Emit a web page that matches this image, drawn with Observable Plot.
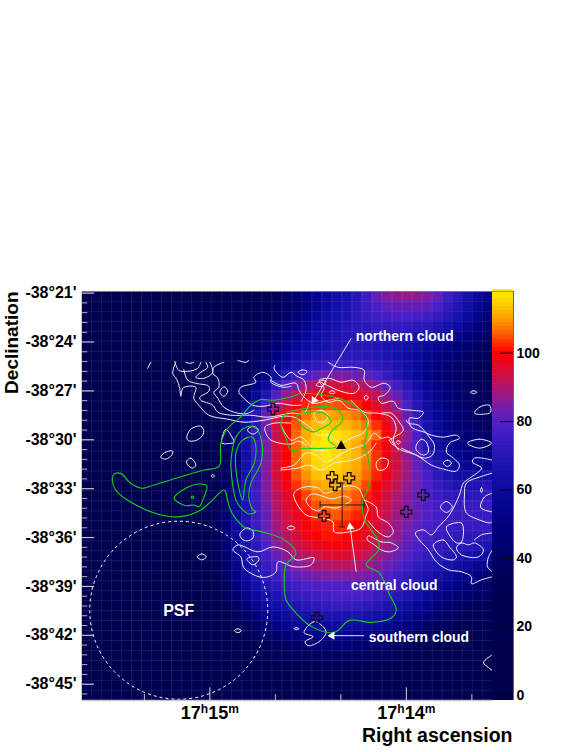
<!DOCTYPE html>
<html><head><meta charset="utf-8">
<script src="https://cdn.jsdelivr.net/npm/d3@7"></script>
<script src="https://cdn.jsdelivr.net/npm/@observablehq/plot@0.6"></script>
<style>html,body{margin:0;padding:0;background:#fff}#wrap{position:relative;width:581px;height:752px;overflow:hidden}#wrap svg{position:absolute;left:0;top:0;max-width:none}</style>
</head><body><div id="wrap"></div>
<script>
// Map bins: the image has 41 x 41 bins. Contours and markers below are read in bin units.
const raOrigin = 99.2, raPerBin = 3.0612;      // seconds of RA after 17h14m
const decOrigin = 20.9, decPerBin = 0.6122;    // arcmin south of -38 deg
const toRA = b => raOrigin - b * raPerBin;
const toDec = b => decOrigin + b * decPerBin;

const raMajor = [60, 0];
const raMinor = [80, 40, 20, -20];
const decMajor = [21, 24, 27, 30, 33, 36, 39, 42, 45];
const colorTicks = [0, 20, 40, 60, 80, 100];
const colorStops = [0, 30, 40, 50, 58, 65, 72, 78, 83, 88, 93, 98, 100, 103, 106, 110, 115, 118.5];
const colorRange = ["#00004a","#000054","#000062","#000080","#080898","#1410aa","#2c18ba","#4a1ec8","#6c1eb0","#9e1880","#cc1048","#f00414","#ff0000","#ff3000","#ff6800","#ffa000","#ffd400","#ffec00"];

const backgroundValue = 22;   // bins 0-11 of every row
const heatRows = [ // bins 12-40
[22,22,24,26,28,30,32,34,40,43,48,55,60,63,66,70,75,82,85,86,87,86,85,82,76,72,65,60,55],
[22,22,24,26,28,30,33,36,40,44,50,56,60,64,67,71,75,78,81,82,82,82,81,78,74,69,63,57,52],
[22,22,24,26,28,31,34,38,42,47,52,58,62,65,68,71,74,76,77,78,78,77,76,74,70,66,60,54,49],
[22,23,25,27,29,32,36,40,45,50,55,60,63,66,69,71,72,73,73,73,73,72,71,68,65,61,56,50,45],
[22,23,25,27,30,34,38,43,48,53,58,62,65,67,69,70,70,70,70,69,68,67,65,62,59,55,50,45,41],
[23,24,26,28,32,36,41,46,52,57,61,64,66,68,69,70,70,69,67,66,64,62,59,56,53,49,45,41,38],
[23,24,26,29,33,38,44,50,56,61,64,67,69,70,71,71,70,69,67,65,62,59,56,53,49,46,42,39,36],
[23,25,27,30,35,41,47,54,61,66,70,72,74,75,75,75,74,72,70,67,63,59,55,51,47,44,41,38,35],
[23,25,28,32,38,44,52,62,70,75,78,81,83,84,84,83,81,78,74,69,64,58,53,49,45,42,39,37,34],
[24,25,28,34,42,50,60,72,79,84,88,91,93,94,94,92,90,86,81,76,70,63,57,52,47,43,40,38,35],
[24,26,30,37,46,58,68,79,87,92,96,99,100,100,99,97,95,91,87,82,75,67,60,54,49,44,41,38,35],
[24,27,32,40,52,66,76,87,94,99,102,104,105,105,104,102,99,96,91,86,78,70,62,55,50,45,42,39,36],
[25,28,34,44,58,70,82,93,99,103,107,110,111,110,109,107,104,100,96,90,82,73,64,57,51,47,43,40,37],
[25,29,36,46,60,72,84,94,100,105,110,113,114,113,112,110,107,103,98,92,84,75,66,59,53,48,44,41,38],
[26,30,38,48,62,72,82,92,99,106,111,115,118,117,115,113,110,106,100,95,87,78,69,61,55,50,46,43,41],
[26,30,38,49,63,73,84,94,100,106,112,117,118,116,114,111,107,102,98,92,85,78,70,62,57,52,49,46,44],
[26,30,38,49,63,73,84,94,100,106,112,116,118,116,114,112,108,103,98,93,87,80,73,66,60,55,52,50,50],
[26,30,38,50,64,74,85,94,100,106,111,115,116,115,113,111,107,103,98,94,88,82,75,69,63,59,57,56,57],
[26,31,39,50,64,75,85,94,100,105,109,113,114,114,112,110,106,102,98,93,88,83,77,72,67,64,63,63,65],
[26,31,40,52,65,75,85,93,98,103,107,110,111,111,110,108,104,100,96,92,87,83,78,74,71,68,68,68,70],
[26,32,42,54,66,76,85,91,96,100,104,107,108,108,107,105,102,98,94,90,86,82,78,75,73,72,72,72,73],
[27,33,44,56,67,75,83,90,95,98,102,105,106,107,106,104,100,97,93,89,85,82,79,77,75,74,74,74,75],
[27,34,46,58,68,75,82,89,94,97,100,103,104,105,104,102,99,96,92,88,85,82,79,77,75,75,75,75,75],
[27,35,47,59,68,75,82,88,93,96,99,101,102,102,102,100,98,95,91,87,84,81,78,76,75,74,74,74,74],
[27,35,47,60,67,74,81,87,91,95,98,100,101,101,100,99,97,94,90,87,83,80,77,75,74,73,72,72,72],
[26,34,46,59,66,72,78,85,89,92,95,97,98,99,98,97,95,92,88,85,81,78,75,73,72,71,70,69,68],
[26,33,45,57,65,71,76,82,86,89,91,93,95,95,95,94,92,89,86,83,79,76,73,71,69,68,66,64,61],
[26,32,44,55,63,69,74,78,82,85,87,89,90,91,91,90,88,86,83,80,76,73,70,68,65,63,60,57,54],
[25,31,42,52,61,67,72,75,78,81,83,84,85,85,85,85,84,82,79,76,73,70,67,64,61,57,53,50,47],
[25,30,40,49,57,64,69,72,74,76,78,79,79,79,79,79,78,77,75,73,70,67,63,59,55,52,48,46,44],
[24,29,37,46,54,60,65,68,71,73,75,76,77,78,78,78,77,75,73,71,68,64,60,55,51,47,44,42,40],
[24,27,33,41,48,55,60,63,66,68,70,72,73,74,74,73,72,70,68,65,62,58,54,49,45,42,40,38,36],
[23,26,30,36,43,49,54,58,61,63,65,66,67,67,67,67,66,64,62,59,56,52,48,44,41,38,36,35,34],
[23,25,28,32,38,43,48,52,55,57,58,60,60,61,61,60,59,58,56,53,50,47,43,40,37,35,33,32,31],
[22,24,26,29,33,37,42,45,48,50,52,53,54,54,54,53,53,51,49,47,44,41,38,36,33,32,31,30,29],
[22,23,25,27,30,33,36,39,41,43,45,46,46,47,47,46,45,44,42,40,38,36,34,32,31,30,29,28,27],
[22,23,24,26,28,30,32,34,36,37,38,39,40,40,40,39,39,38,36,35,33,32,30,29,28,27,26,26,25],
[22,22,24,25,26,28,29,30,31,32,33,34,34,34,34,34,33,32,31,30,29,28,27,26,26,25,25,24,24],
[22,22,23,24,25,26,27,28,28,29,29,30,30,30,30,30,29,29,28,27,27,26,25,25,24,24,23,23,23],
[22,22,22,23,23,24,24,25,25,25,26,26,26,26,26,26,26,25,25,25,24,24,24,23,23,23,22,22,22],
[22,22,22,22,22,23,23,23,23,23,24,24,24,24,24,24,24,23,23,23,23,23,22,22,22,22,22,22,22]
];

// White contours (open), bin units [x, y]
const whiteOpen = [
 [[9.4,7.1],[9.1,8.2],[9.5,8.8],[9.8,9.7],[9.9,10.5],[10.1,9.7],[10.6,9.5],[11.4,9.6],[11.2,10.7],[11.7,11.4],[12.7,12.4],[14.6,12.8],[16.2,13.1],[18.2,12.9],[20.2,12.5],[21.2,12.6],[22.1,13.1],[22.9,13.7],[23.6,14.4],[24.6,14.4],[25.4,14.9],[25.7,15.2],[27.1,14.6],[28.2,14.1],[28.6,12.9],[27.7,11.9],[26.6,11.7],[25.7,10.9],[24.6,11.1],[23.9,10.4],[24.2,9.7],[23.7,9.1]],
 [[10.2,7.8],[10.6,8.9],[11.4,9.2],[12.7,9.5],[12.7,10],[11.8,10.6],[11.9,10.9],[13.1,11.4],[13.6,12.1],[14.9,12.4],[16.9,12.4],[18.6,12.6],[20.9,12.2],[22.2,12.2],[22.7,11.2]],
 [[9.3,7],[9.7,7.9],[10.6,8],[11.6,7.7],[11.9,7.1]],
 [[10.4,7.1],[10.8,7.2],[11.2,7.1]],
 [[12.8,7.1],[13.1,8.1],[12.2,8.7],[11.4,8.6],[11.9,8.1],[12.6,7.6],[12.4,7.1]],
 [[14.2,7.1],[13.2,7.6],[13.1,8.2],[13.6,8.7],[13.7,9.6],[13.2,10.1],[13.6,10.7],[14.2,11.6],[15.6,12.2],[16.6,12.2],[17.2,11.9]],
 [[20.9,9.5],[20.2,9.6],[18.9,9.1],[18.9,8.6],[18.1,8.1],[17.2,8.6],[17.4,9.1],[15.9,9.6],[15.7,10.1],[16.2,10.7],[17.1,11.4],[18.2,11.5],[19.6,11.2],[20.9,11.4],[21.9,11.4]],
 [[19.3,7.4],[19.2,7.7],[20.1,8.6],[20.9,8.1],[21.5,8.5],[22.2,8.9],[22.4,9.9],[21.9,11]],
 [[24.6,7.1],[25.6,7.6],[27.2,7.6],[28.2,7.9],[28.2,8.9],[28.9,9.6],[30.2,9.2],[30.8,9.6],[30.2,10.4],[29.6,10.6],[29.9,11.2],[31.1,11],[31.6,11.7],[32.9,11.9],[34.1,12.1],[33.6,12.7],[32.7,12.7],[32.9,13.6],[34.2,14.1],[34.9,14.4],[36.1,14.6],[37.4,14.4],[37.7,14.7],[36.7,15.2],[36.4,16.1],[37.1,16.7],[37.7,17.4],[37.4,18],[36.1,17.8],[34.9,17.4],[33.4,16.4],[31.9,15.9],[31.2,15.4],[30.7,14.6],[29.9,14.7],[29.2,14.2],[28.6,15],[28.1,15.4],[26.6,15.9],[25.4,16.6],[24.4,17.1],[23.4,16.4],[22.4,16.2],[21.2,17.4],[19.9,17.7]],
 [[19.9,13.4],[20.9,14.9],[21.9,14.6],[23.2,15.8],[24.2,15.9],[25.4,15.4]],
 [[26.9,10.9],[28.2,12.1],[29.6,12.2],[30.9,12.6],[31.4,13.7],[31.1,14.9],[31.6,15.9]],
 [[29.9,12.2],[30.9,12.2],[31.7,13.1],[32.1,13.9],[31.2,14.6],[30.7,14.9],[31.1,15.4]],
 [[32.4,12.9],[32.6,13.2],[33.6,13.4],[34.7,14.6],[35.2,15.4],[35,16.4],[34.2,16.7],[33.2,16.3],[31.9,15.7]],
 [[28.2,20.9],[29.4,21.6],[29.6,22.6],[30.6,23.2],[31.1,24.1],[30.6,24.6],[29.7,24.2],[29,23.5],[28.6,23]],
 [[41,16.9],[39.2,16.7],[39,17.1],[39.9,17.7],[38.9,18.6],[38.1,19.2],[37.7,20.4],[36.7,22.4],[35.6,23.6],[34.9,24.4],[34.1,23.9],[33.3,24.2],[33.7,24.9],[34.6,25.9],[35.4,27.1],[36.6,27.9],[37.9,28.1],[38.9,28.6],[38.9,29.3],[39.9,28.9],[41,28.6]],
 [[41,18.2],[39.7,18.6],[38.4,19.2],[38.2,20.4],[38.4,22.2],[39.7,22.9],[40.7,23.2],[41,23.1]],
 [[41,20.2],[40.2,20.6],[39.8,21.6],[40.2,21.9],[41,22.1]],
 [[41,24.2],[39.9,24.4],[39.2,24.9]],
 [[41,25.9],[40.6,26.6],[40.5,27.6],[41,28.1]],
 [[41,36.4],[40.1,37.2],[40.6,37.7],[41,38]],
 [[6.6,7.7],[6.9,7.1]],
 [[15.6,6.9],[16.4,7.1],[16.7,6.9]],
 [[20.9,13.2],[19.2,13.2],[18.3,13.6],[18.4,14.2],[18.9,14.9],[20.9,15.3],[21.6,15],[22.4,15.4]],
 [[18.9,8.9],[19.9,9.4],[21.4,9.2],[21.7,9.9],[22.2,10.6],[23.2,11.2],[24.6,10.9],[25.7,10.7]],
 [[19.9,17.9],[21.6,17.7],[22.7,17.4],[23.9,17.9],[25.2,17.2],[27.1,16.9],[28.7,16.1],[29.4,15.2]]
];
// White contours (closed), bin units [x, y]
const whiteClosed = [
 [[21.2,20.2],[22.2,19.6],[23.6,19.7],[24.2,20.2],[25.4,19.9],[26.4,19.5],[27.6,19.7],[28.2,20.9],[28.6,21.8],[28.4,22.4],[27.9,23.7],[26.7,24.1],[25.2,24.1],[25.1,23.1],[23.9,22.7],[22.4,22.4],[21.3,20.9]],
 [[22.4,20.9],[22.9,21.7],[23.7,22],[24.2,21.6],[25.4,21.7],[26.2,21.4],[26.9,20.9],[26.2,20.5],[25,20.8],[24,20.5],[23,20.3]],
 [[28.6,24.5],[29.9,25.1],[30.9,25.2],[31.6,25.7],[30.7,26.1],[29.9,25.9],[29.1,25.3],[28.5,24.9]],
 [[29.4,17.2],[29.9,16.7],[30.6,16.9],[30.4,17.7],[29.6,17.9]],
 [[21.6,8.1],[22,7.85],[22.5,8],[22.1,8.35]],
 [[23.4,9.4],[24,8.9],[24.4,9],[24,9.5]],
 [[24.7,10.1],[25,9.95],[25.3,10.1],[25,10.25]],
 [[28.2,10.6],[28.4,10.4],[28.6,10.6],[28.4,10.9]],
 [[31.4,15.1],[31.6,14.95],[31.8,15.1],[31.6,15.3]],
 [[24.7,8.7],[25.9,9.1],[27.1,8.9],[27.7,9.6],[27.2,10.2],[26.2,10.1],[24.9,9.6],[23.7,8.9]],
 [[33.4,15.4],[33.9,14.8],[34.4,15.1],[34.6,16.1],[34.1,16.4],[33.4,15.9]],
 [[36.1,17.2],[36.5,16.9],[36.9,17.2],[36.5,17.55]],
 [[38.5,15.2],[39.7,14.8],[40.9,15.2],[39.7,15.7]],
 [[39.2,12.2],[39.7,11.6],[40.7,11.4],[40.8,12.1],[40.1,12.3]],
 [[38.8,10.1],[39.1,9.95],[39.45,10.1],[39.1,10.25]],
 [[36.4,23.6],[37.9,23.2],[38.1,23.9],[37.9,25.1],[37.4,25.2]],
 [[35.1,25.4],[36.1,24.9],[36.7,25.6],[37.4,26.6],[37.1,26.9],[35.9,26.6]],
 [[37.4,25.7],[37.9,25.2],[38.6,25.4],[39.2,25.2],[40.1,25.9],[39.6,26.6],[37.9,26.4]],
 [[39.8,19.9],[39.9,19.65],[40,19.9],[39.9,20.15]],
 [[35.8,21.6],[36.4,21.05],[37,21.6],[36.4,22.15]],
 [[10.5,14.7],[10.9,13.8],[11.9,13.5],[12.2,14.1],[11.7,14.8],[10.8,15]],
 [[7.9,16.6],[8.4,16.1],[9.1,16],[9,16.4],[8.4,16.8]],
 [[10.5,17],[10.9,16.7],[11.4,17.4],[11.1,17.7],[10.6,17.4]],
 [[12.95,18.5],[13.1,18.35],[13.25,18.5],[13.1,18.65]],
 [[14.2,9.55],[14.6,10],[14.2,10.5],[13.8,10.1]],
 [[14,15.2],[14.1,14.4],[14.4,13.8],[14.9,14.4],[15.2,15.1],[14.6,15.25]],
 [[16.55,13.9],[17.1,13.5],[17.65,13.9],[17.1,14.3]],
 [[15.1,25.9],[15.6,25.4],[17.6,26.1],[19.1,25.6],[20.6,26.1],[21.4,26.9],[23.2,26.7],[22.9,27.4],[21.2,27.6],[19.6,27.1],[19.4,28.1],[18.6,28.6],[17.7,28.6],[16.2,27.7],[15.9,26.6]],
 [[15.8,24.3],[16.5,23.7],[17.1,24],[17.1,24.7],[16.5,25],[16,24.8]],
 [[16.5,26.8],[17.6,26.6],[17.7,26.9],[17.1,27.4]],
 [[20.5,23.7],[20.9,23.5],[21.3,23.7],[20.9,23.9]],
 [[15.25,34],[15.6,33.8],[15.95,34],[15.6,34.2]],
 [[21.2,33.8],[21.45,33.7],[21.7,33.8],[21.45,33.9]],
 [[11.55,26.6],[12,26.3],[12.45,26.6],[12,26.9]],
 [[22.2,34.2],[23.2,33.1],[24.1,33.6],[24.4,34.2],[23.7,35.1],[22.6,35.5],[22.3,35.1],[23.1,34.6]],
 [[23.2,12.2],[23.9,11.9],[24.6,12.4],[24.2,13.1],[23.6,13.1]]
];
// Green contours (closed), bin units [x, y]
const greenClosed = [
 [[3.07,18.9],[3.23,18.33],[3.9,18.23],[4.9,19.23],[6.07,19.73],[7.23,19.4],[9.9,18.57],[12.23,17.9],[13.73,17.5],[13.9,15.23],[14.57,13.73],[15.9,12.57],[16.9,11.4],[17.9,10.83],[18.9,10.9],[20.9,10.57],[21.9,10.23],[24.23,10.4],[26.23,10.9],[28.07,12.23],[28.5,13.9],[28.23,15.57],[28.57,16.57],[28.73,18.9],[28.5,20],[28.07,20.9],[28.23,22.9],[29.57,24.9],[29.63,25.9],[28.4,27.4],[29.73,28.23],[30.73,30.4],[31.4,31.9],[30.9,32.73],[28.9,33.17],[26.73,32.97],[25.23,34.17],[22.9,33.57],[21.4,32.23],[20.4,30.9],[20.23,28.9],[20.4,27.4],[21.4,26.23],[20.23,24.9],[17.9,24.07],[16.4,23.73],[15.23,22.57],[14.73,21.57],[14.57,20.9],[14.23,19.9],[12.9,21.07],[11.9,21.9],[9.9,22.57],[7.57,22.3],[4.57,20.9],[3.4,19.9]],
 [[9.23,20.73],[10.4,19.73],[11.73,19.3],[12.5,19.5],[12.23,20.57],[11.73,21.57],[11.23,21.4],[10.4,21.47],[9.73,21.17]],
 [[15.4,20.9],[14.9,17.5],[15,16.2],[15.4,14.6],[16.4,13.6],[17.4,13.7],[18,15.2],[17.9,17.2],[16.9,19.2],[16.7,20.6],[17.1,21.9],[17.4,22.07],[16.7,22.3],[15.9,21.7]],
 [[16.07,20.9],[15.5,18.6],[15.4,16.2],[16.07,14.9],[17.07,14.6],[17.4,15.6],[17.23,17.2],[16.4,18.9]],
 [[19.9,13.23],[20.4,12.23],[22.23,11.73],[24.57,11.57],[25.57,11.9],[26.07,12.9],[24.9,14.07],[24.63,14.9],[25.4,15.57],[23.9,15.73],[22.23,15.73],[20.9,15.9],[20.4,14.73]],
 [[21.5,12.5],[22.9,12.07],[24.23,12.23],[24.9,13.07],[23.9,13.73],[23.23,14.07],[22.07,13.57]],
 [[10.95,20.63],[11.07,20.5],[11.2,20.63],[11.07,20.75]]
];

const sourcePlus = [[19.1,11.8],[25,18.6],[26.7,18.7],[25.3,19.4],[24.2,22.5],[23.5,32.7],[34.1,20.4],[32.4,22.1]];
const triangleSource = [[25.9,15.5]];
const errCentre = [26, 21.4], errX = [23.8, 28.2], errY = [19.2, 23.6], errCap = 0.3;
const psfCentre = [9.7, 31.95];
const arrows = [
  {from:[26.9,4.7], to:[23.2,10.9]},
  {from:[27.4,28.1], to:[26.8,23.6]},
  {from:[28.2,34.5], to:[25,34.5]}
];
const arrowTurn = [212, -8.5, -90];
const cloudLabels = [
  {name:"northern cloud", at:[32.25,4.55]},
  {name:"central cloud", at:[31.2,29.5]},
  {name:"southern cloud", at:[33.65,34.65]},
  {name:"PSF", at:[9.7,32]}
];

const cells = [];
heatRows.forEach((row, r) => {
  for (let c = 0; c < 41; c++) {
    cells.push({x1: toRA(c), x2: toRA(c + 1), y1: toDec(r), y2: toDec(r + 1), v: c < 12 ? backgroundValue : row[c - 12]});
  }
});
const binEdges = d3.range(1, 41);
const flat = list => list.flatMap((pts, id) => pts.map(p => ({id, x: toRA(p[0]), y: toDec(p[1])})));
const font = "'Liberation Sans', Arial, sans-serif";
const colorScale = {type: "linear", domain: colorStops, range: colorRange, interpolate: "rgb", clamp: true};
const raL = toRA(0), raR = toRA(41), decT = toDec(0), decB = toDec(41);
const xy = p => ({x: toRA(p[0]), y: toDec(p[1])});

const main = Plot.plot({
  width: 581, height: 752, marginTop: 291, marginBottom: 52, marginLeft: 81, marginRight: 89,
  x: {domain: [raL, raR]},
  y: {domain: [decB, decT]},
  color: colorScale,
  style: {background: "transparent", fontFamily: font, overflow: "visible"},
  marks: [
    Plot.rect(cells, {x1: "x1", x2: "x2", y1: "y1", y2: "y2", fill: "v", stroke: "v", strokeWidth: 0.6, clip: "frame"}),
    Plot.ruleX(binEdges.map(toRA), {stroke: "#fff", strokeOpacity: 0.07, strokeWidth: 1}),
    Plot.ruleY(binEdges.map(toDec), {stroke: "#fff", strokeOpacity: 0.07, strokeWidth: 1}),
    Plot.line(flat(whiteOpen), {x: "x", y: "y", z: "id", stroke: "#eeeef4", strokeWidth: 1, curve: "catmull-rom", clip: "frame"}),
    Plot.line(flat(whiteClosed), {x: "x", y: "y", z: "id", stroke: "#eeeef4", strokeWidth: 1, curve: "catmull-rom-closed", clip: "frame"}),
    Plot.line(flat(greenClosed), {x: "x", y: "y", z: "id", stroke: "#16d016", strokeWidth: 1.1, curve: "catmull-rom-closed", clip: "frame"}),
    Plot.dot(sourcePlus.map(xy), {x: "x", y: "y", symbol: "cross", r: 4.6, fill: "none", stroke: "#180818", strokeWidth: 1.3}),
    Plot.dot(triangleSource.map(xy), {x: "x", y: "y", symbol: "triangle", r: 3.7, fill: "#000"}),
    Plot.ruleY([toDec(errCentre[1])], {x1: toRA(errX[0]), x2: toRA(errX[1]), stroke: "#2a1c10", strokeWidth: 1}),
    Plot.ruleX([toRA(errCentre[0])], {y1: toDec(errY[0]), y2: toDec(errY[1]), stroke: "#2a1c10", strokeWidth: 1}),
    Plot.ruleX(errX.map(toRA), {y1: toDec(errCentre[1] - errCap), y2: toDec(errCentre[1] + errCap), stroke: "#2a1c10"}),
    Plot.ruleY(errY.map(toDec), {x1: toRA(errCentre[0] - errCap), x2: toRA(errCentre[0] + errCap), stroke: "#2a1c10"}),
    Plot.dot([xy(psfCentre)], {x: "x", y: "y", r: 89, fill: "none", stroke: "#fff", strokeWidth: 1, strokeDasharray: "3,3"}),
    Plot.link(arrows, {x1: d => toRA(d.from[0]), y1: d => toDec(d.from[1]), x2: d => toRA(d.to[0]), y2: d => toDec(d.to[1]), stroke: "#e6e6f0", strokeWidth: 1}),
    Plot.dot(arrows.map((d, i) => ({...xy(d.to), turn: arrowTurn[i]})), {x: "x", y: "y", rotate: "turn", symbol: "triangle", r: 3, fill: "#fff"}),
    Plot.text(cloudLabels, {x: d => toRA(d.at[0]), y: d => toDec(d.at[1]), text: "name", fill: "#fff", fontWeight: "bold", fontSize: d => d.name === "PSF" ? 16 : 13.9}),
    // ticks and frame
    Plot.ruleY(decMajor, {x1: raL, x2: raL - 4, stroke: "#c4c4cc", strokeWidth: 1.2}),
    Plot.ruleY(d3.range(21, 46, 0.6).filter(d => !decMajor.includes(Math.round(d * 10) / 10)), {x1: raL, x2: raL - 1.9, stroke: "#b4b4c0"}),
    Plot.ruleX(raMajor, {y1: decB, y2: decB - 0.78, stroke: "#d8d8e0", strokeWidth: 1}),
    Plot.ruleX(raMinor, {y1: decB, y2: decB - 0.36, stroke: "#c4c4cc", strokeWidth: 1}),
    Plot.ruleY([decT], {stroke: "#777", strokeWidth: 1}),
    Plot.ruleY([decB], {stroke: "#c8c8c8", strokeWidth: 1.5}),
    Plot.ruleX([raL], {stroke: "#c8c8c8", strokeWidth: 1}),
    Plot.axisY(decMajor, {anchor: "left", tickSize: 0, tickPadding: 5, label: null, tickFormat: d => `-38°${d}'`, fontSize: 16, fontWeight: "bold", fill: "#000"}),
    Plot.axisX(raMajor, {anchor: "bottom", tickSize: 0, tickPadding: 6, label: null, tickFormat: d => `17h${d === 60 ? 15 : 14}m`, fontSize: 18, fontWeight: "bold", fill: "#000"}),
    Plot.text(["Right ascension"], {frameAnchor: "bottom-right", dx: 20, dy: 41, lineAnchor: "bottom", textAnchor: "end", fontSize: 19.5, fontWeight: "bold", fill: "#000"}),
    Plot.text(["Declination"], {frameAnchor: "top-left", dx: -77, dy: 0, rotate: -90, textAnchor: "end", fontSize: 19, fontWeight: "bold", fill: "#000"})
  ]
});

// superscript h and m in the RA tick labels
d3.select(main).selectAll('[aria-label="x-axis tick label"] text').each(function () {
  const m = this.textContent.match(/^(\d+)h(\d+)m$/);
  if (!m) return;
  this.innerHTML = `${m[1]}<tspan dy="-6" font-size="12">h</tspan><tspan dy="6">${m[2]}</tspan><tspan dy="-6" font-size="12">m</tspan>`;
});

const levels = d3.range(-1.5, 118, 1.2);
const bar = Plot.plot({
  width: 89, height: 752, marginTop: 291, marginBottom: 52, marginLeft: 0, marginRight: 68,
  x: {domain: [0, 1], axis: null},
  y: {domain: [-1.5, 118]},
  color: colorScale,
  style: {background: "transparent", fontFamily: font, overflow: "visible"},
  marks: [
    Plot.rect(levels, {x1: 0, x2: 1, y1: d => d, y2: d => d + 1.2, fill: d => d + 0.6, shapeRendering: "crispEdges"}),
    Plot.ruleY(colorTicks, {x1: 0.38, x2: 1, stroke: "#100010", strokeOpacity: 0.85, strokeWidth: 1.2}),
    Plot.ruleX([1], {stroke: "#666"}),
    Plot.ruleY([118], {stroke: "#888"}),
    Plot.axisY(colorTicks, {anchor: "right", tickSize: 0, tickPadding: 3, label: null, fontSize: 14, fontWeight: "bold", fill: "#000"})
  ]
});
bar.style.left = "492px";
const wrap = document.getElementById("wrap");
wrap.append(main, bar);
</script>
</body></html>
